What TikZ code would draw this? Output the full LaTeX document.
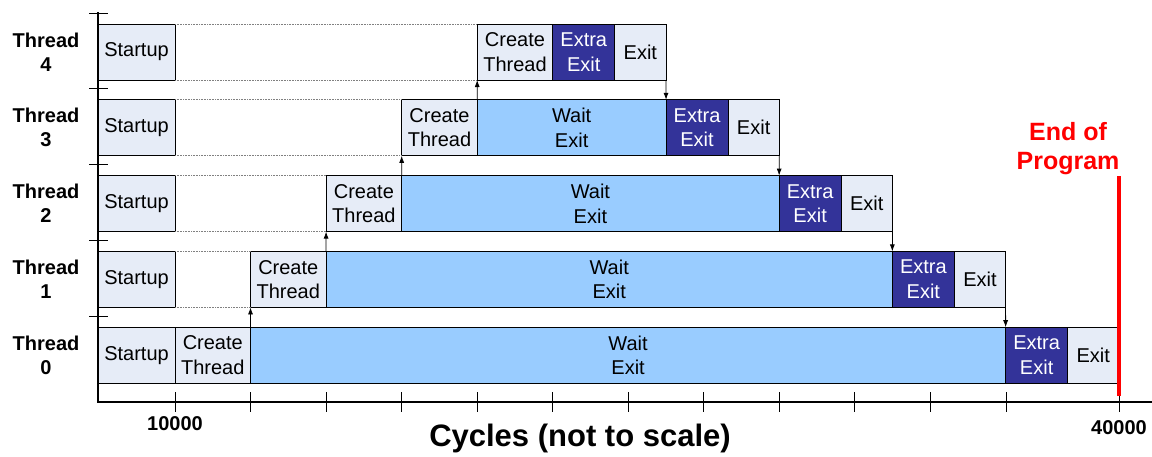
\documentclass[tikz,border=0pt]{standalone}
\usepackage{fontspec}
\setmainfont{Liberation Sans}
\usetikzlibrary{positioning,arrows.meta}

\definecolor{boxgray}{HTML}{E6ECF7}
\definecolor{waitblue}{HTML}{99CCFF}
\definecolor{extrablue}{HTML}{333399}

\tikzset{
    seg/.style={draw, line width=0.9pt, fill=boxgray, inner sep=0pt, outer sep=0pt,
        anchor=north west, minimum height=56pt, align=center,
        font=\fontsize{20}{24.5}\selectfont},
    startbox/.style={seg, minimum width=77pt},
    createbox/.style={seg, minimum width=75.55pt},
    waitbox/.style={seg, fill=waitblue},
    extrabox/.style={seg, fill=extrablue, text=white, minimum width=62pt},
    exitbox/.style={seg, minimum width=51.2pt},
    spawn/.style={-{Latex[length=7pt,width=5pt]}, line width=0.8pt},
    gap/.style={gray, dash pattern=on 1pt off 0.6pt, line width=1pt},
    lbl/.style={font=\bfseries\fontsize{20}{24}\selectfont, align=center},
}

\begin{document}
\begin{tikzpicture}[x=1pt, y=-1pt]
    \useasboundingbox (0,0) rectangle (1152,456);

    % thread 4
    \node[startbox] (s4) at (98,24) {Startup};
    \node[createbox] (c4) at (477.2,24) {Create\\Thread};
    \node[extrabox, right=0pt of c4] (e4) {Extra\\Exit};
    \node[exitbox, right=0pt of e4] (x4) {Exit};

    % thread 3
    \node[startbox] (s3) at (98,99.8) {Startup};
    \node[createbox] (c3) at (401.7,99.8) {Create\\Thread};
    \node[waitbox, minimum width=188.8pt, right=0pt of c3] (w3) {Wait\\Exit};
    \node[extrabox, right=0pt of w3] (e3) {Extra\\Exit};
    \node[exitbox, right=0pt of e3] (x3) {Exit};

    % thread 2
    \node[startbox] (s2) at (98,175.6) {Startup};
    \node[createbox] (c2) at (326.1,175.6) {Create\\Thread};
    \node[waitbox, minimum width=377.5pt, right=0pt of c2] (w2) {Wait\\Exit};
    \node[extrabox, right=0pt of w2] (e2) {Extra\\Exit};
    \node[exitbox, right=0pt of e2] (x2) {Exit};

    % thread 1
    \node[startbox] (s1) at (98,251.4) {Startup};
    \node[createbox] (c1) at (250.5,251.4) {Create\\Thread};
    \node[waitbox, minimum width=566.3pt, right=0pt of c1] (w1) {Wait\\Exit};
    \node[extrabox, right=0pt of w1] (e1) {Extra\\Exit};
    \node[exitbox, right=0pt of e1] (x1) {Exit};

    % thread 0
    \node[startbox] (s0) at (98,327.2) {Startup};
    \node[createbox, right=0pt of s0] (c0) {Create\\Thread};
    \node[waitbox, minimum width=755.1pt, right=0pt of c0] (w0) {Wait\\Exit};
    \node[extrabox, right=0pt of w0] (e0) {Extra\\Exit};
    \node[exitbox, right=0pt of e0] (x0) {Exit};

    \foreach \i in {1,...,4} {
        \draw[gap] (s\i.north east) -- (c\i.north west);
        \draw[gap] (s\i.south east) -- (c\i.south west);
    }

    % spawn and join
    \foreach \i/\j in {0/1,1/2,2/3,3/4}
        \draw[spawn] (c\i.north east) -- (c\j.south west);
    \foreach \i/\j in {4/3,3/2,2/1,1/0}
        \draw[spawn] (x\i.south east) -- (e\j.north west);

    % axes
    \draw[line width=2pt] (98,12) -- (98,403);
    \draw[line width=2.5pt] (97,402) -- (1152,402);
    \foreach \y in {13,88.8,164.6,240.4,316.2}
        \draw[line width=1pt] (89,\y) -- (108,\y);
    \foreach \k in {0,...,11}
        \draw[line width=1pt] ({175+75.55*\k},392) -- ++(0,20);
    \draw[line width=1pt] (1119,392) -- ++(0,20);

    \node[lbl] (t4) at (46,52) {Thread\\4};
    \node[lbl] (t3) at (46,127.8) {Thread\\3};
    \node[lbl] (t2) at (46,203.6) {Thread\\2};
    \node[lbl] (t1) at (46,279.4) {Thread\\1};
    \node[lbl] (t0) at (46,355.2) {Thread\\0};

    \node[lbl] (k10) at (175,424) {10000};
    \node[lbl] (k40) at (1119,428) {40000};
    \node[font=\bfseries\fontsize{31}{36}\selectfont] (cyc) at (580,438) {Cycles (not to scale)};

    % end of program
    \node[red, align=center, font=\bfseries\fontsize{25}{29}\selectfont] (eop) at (1068,149) {End of\\Program};
    \draw[red, line width=4pt] (1119,176) -- (1119,396);

\end{tikzpicture}
\end{document}
